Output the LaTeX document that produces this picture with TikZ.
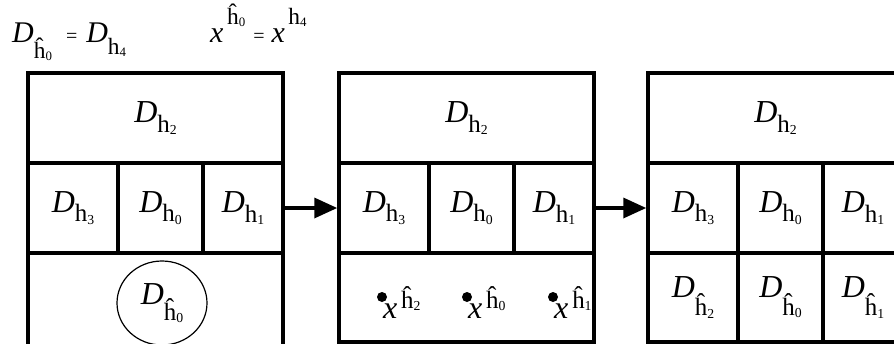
\documentclass[tikz,border=0pt]{standalone}
\usepackage{fontspec}
\setmainfont{Liberation Serif}
\usepackage{tikz}
\usetikzlibrary{arrows.meta, positioning, shapes.geometric}
\newcommand{\hsub}[3][.3em]{\raisebox{-#1}{\scalebox{.78}{#2\raisebox{-.1em}{\scalebox{.55}{#3}}}}}
\newcommand{\hsup}[3][.31em]{\hspace{.12em}\raisebox{#1}{\scalebox{.78}{#2\raisebox{-.1em}{\scalebox{.55}{#3}}}}}
\newcommand{\eqsign}{{\fontsize{20}{20}\selectfont=}}

\begin{document}
\begin{tikzpicture}[
  x=1pt, y=-1pt,
  font=\fontsize{32}{38}\selectfont,
  cell/.style={draw, line width=3.5pt, inner sep=0pt, outer sep=0pt,
               anchor=north west, minimum height=90pt},
  lab/.style={inner sep=0pt, anchor=base west},
  head/.style={lab, font=\fontsize{30}{36}\selectfont},
  arr/.style={-{Triangle[length=23pt,width=20pt]}, line width=3.5pt, shorten >=1.75pt},
]
\useasboundingbox (0,0) rectangle (894,343);
\clip (0,0) rectangle (894,343);
% header
\node[head] (eqD) at (12,42) {\textit{D}\hsub[.55em]{\^h}{0}\hspace{14pt}\eqsign\hspace{9pt}\textit{D}\hsub[.4em]{h}{4}};
\node[head] (eqx) at (210,42) {\textit{x}\hsup[.6em]{\^h}{0}\hspace{8pt}\eqsign\hspace{7pt}\textit{x}\hsup[.6em]{h}{4}};
% first box
\node[cell, minimum width=255pt] (a-top) at (28,73) {\textit{D}\hsub{h}{2}};
\node[cell, minimum width=90pt] (a-h3) at (a-top.south west) {\textit{D}\hsub{h}{3}};
\node[cell, minimum width=85pt] (a-h0) at (a-h3.north east) {\textit{D}\hsub{h}{0}};
\node[cell, minimum width=80pt] (a-h1) at (a-h0.north east) {\textit{D}\hsub{h}{1}};
\node[cell, minimum width=255pt, minimum height=100pt] (a-bot) at (a-h3.south west) {};
\node[draw, ellipse, line width=1.2pt, minimum width=90pt, minimum height=84pt, inner sep=0pt] (a-circ) at (162,303) {\textit{D}\hsub[.5em]{\^h}{0}};
% second box
\node[cell, minimum width=255pt] (b-top) at (339,73) {\textit{D}\hsub{h}{2}};
\node[cell, minimum width=90pt] (b-h3) at (b-top.south west) {\textit{D}\hsub{h}{3}};
\node[cell, minimum width=85pt] (b-h0) at (b-h3.north east) {\textit{D}\hsub{h}{0}};
\node[cell, minimum width=80pt] (b-h1) at (b-h0.north east) {\textit{D}\hsub{h}{1}};
\node[cell, minimum width=255pt, minimum height=89pt] (b-bot) at (b-h3.south west) {};
\node[lab] (b-x2) at (383,318) {\textit{x}\hsup{\^h}{2}};
\node[lab] (b-x0) at (468,318) {\textit{x}\hsup{\^h}{0}};
\node[lab] (b-x1) at (554,318) {\textit{x}\hsup{\^h}{1}};
\fill ([shift={(-1pt,21pt)}]b-x2.base west) circle (5pt);
\fill ([shift={(-1pt,21pt)}]b-x0.base west) circle (5pt);
\fill ([shift={(-1pt,21pt)}]b-x1.base west) circle (5pt);
% third box
\node[cell, minimum width=255pt] (c-top) at (648,73) {\textit{D}\hsub{h}{2}};
\node[cell, minimum width=90pt] (c-h3) at (c-top.south west) {\textit{D}\hsub{h}{3}};
\node[cell, minimum width=85pt] (c-h0) at (c-h3.north east) {\textit{D}\hsub{h}{0}};
\node[cell, minimum width=80pt] (c-h1) at (c-h0.north east) {\textit{D}\hsub{h}{1}};
\node[cell, minimum width=90pt, minimum height=89pt] (c-g2) at (c-h3.south west) {\textit{D}\hsub[.55em]{\^h}{2}};
\node[cell, minimum width=85pt, minimum height=89pt] (c-g0) at (c-g2.north east) {\textit{D}\hsub[.55em]{\^h}{0}};
\node[cell, minimum width=80pt, minimum height=89pt] (c-g1) at (c-g0.north east) {\textit{D}\hsub[.55em]{\^h}{1}};
% arrows
\draw[arr] (a-h1.east) -- (b-h3.west);
\draw[arr] (b-h1.east) -- (c-h3.west);
\end{tikzpicture}
\end{document}
